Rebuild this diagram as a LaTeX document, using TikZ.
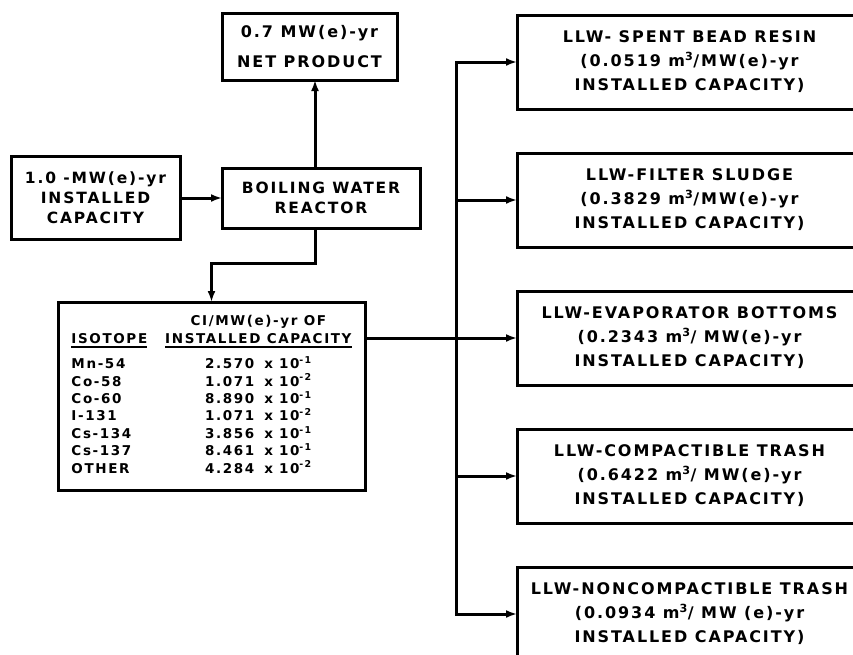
\documentclass[tikz,border=0pt]{standalone}
\usepackage{fontspec}
\newfontfamily\letterfont[LetterSpace=12]{DejaVu Sans}
\usetikzlibrary{positioning,arrows.meta}
\tikzset{>={Latex[length=11pt,width=8pt]}}
\newcommand{\thickul}[1]{\setbox0\hbox{#1}\rlap{\rule[-4.5pt]{\wd0}{2.2pt}}\box0}

\begin{document}
\begin{tikzpicture}[x=1pt, y=-1pt,
    node distance=42pt,
    box/.style={draw, line width=3pt, align=center, inner sep=2pt, outer sep=0pt},
    mainbox/.style={box, font=\letterfont\bfseries\fontsize{15.5}{20}\selectfont},
    wastebox/.style={box, minimum width=345pt, minimum height=94pt,
      font=\letterfont\bfseries\fontsize{16}{24}\selectfont},
    flow/.style={->, line width=3pt}
]
\clip (0,0) rectangle (853,654);

% reactor and its inputs/outputs
\node[mainbox, minimum width=198pt, minimum height=60pt, anchor=north west] (reactor) at (222,168) {BOILING WATER\\REACTOR};
\node[mainbox, minimum width=169pt, minimum height=83pt, left=of reactor] (capacity) {1.0 -MW(e)-yr\\INSTALLED\\CAPACITY};
\node[mainbox, minimum width=175pt, minimum height=67pt, font=\letterfont\bfseries\fontsize{16}{30}\selectfont,
      above=88pt of reactor.north west, anchor=south west] (net) {0.7 MW(e)-yr\\NET PRODUCT};

% isotope table
\node[box, minimum width=307pt, minimum height=188pt, anchor=north west,
      font=\letterfont\bfseries\fontsize{13.5}{17.4}\selectfont] (table) at (58,302) {%
  \begin{tabular}{@{}l@{\hspace{18pt}}c@{}}
    & CI/MW(e)-yr OF\\
    \thickul{ISOTOPE} & \thickul{INSTALLED CAPACITY}\\[8pt]
    Mn-54  & 2.570\hspace{10pt}x\hspace{6pt}10\textsuperscript{-1}\\
    Co-58  & 1.071\hspace{10pt}x\hspace{6pt}10\textsuperscript{-2}\\
    Co-60  & 8.890\hspace{10pt}x\hspace{6pt}10\textsuperscript{-1}\\
    I-131  & 1.071\hspace{10pt}x\hspace{6pt}10\textsuperscript{-2}\\
    Cs-134 & 3.856\hspace{10pt}x\hspace{6pt}10\textsuperscript{-1}\\
    Cs-137 & 8.461\hspace{10pt}x\hspace{6pt}10\textsuperscript{-1}\\
    OTHER  & 4.284\hspace{10pt}x\hspace{6pt}10\textsuperscript{-2}
  \end{tabular}};

% waste streams
\node[wastebox, anchor=north west] (spent) at (517,15) {LLW- SPENT BEAD RESIN\\(0.0519 m\textsuperscript{3}/MW(e)-yr\\INSTALLED CAPACITY)};
\node[wastebox, below=44pt of spent] (sludge) {LLW-FILTER SLUDGE\\(0.3829 m\textsuperscript{3}/MW(e)-yr\\INSTALLED CAPACITY)};
\node[wastebox, below=44pt of sludge] (evap) {LLW-EVAPORATOR BOTTOMS\\(0.2343 m\textsuperscript{3}/ MW(e)-yr\\INSTALLED CAPACITY)};
\node[wastebox, below=44pt of evap] (compact) {LLW-COMPACTIBLE TRASH\\(0.6422 m\textsuperscript{3}/ MW(e)-yr\\INSTALLED CAPACITY)};
\node[wastebox, below=44pt of compact] (noncompact) {LLW-NONCOMPACTIBLE TRASH\\(0.0934 m\textsuperscript{3}/ MW (e)-yr\\INSTALLED CAPACITY)};

\coordinate (bus) at (456,338);

\draw[flow] (capacity.east) -- (reactor.west);
\draw[flow] ([xshift=-6pt]reactor.north) -- ([xshift=-6pt]reactor.north |- net.south);
\draw[flow] ([xshift=-6pt]reactor.south) -- ++(0,35) -| (table.north);

\draw[flow] (table.east |- evap.west) -- (evap.west);
\draw[flow] (bus |- evap.west) |- (spent.west);
\draw[flow] (bus |- evap.west) |- (noncompact.west);
\draw[flow] (bus |- sludge.west) -- (sludge.west);
\draw[flow] (bus |- compact.west) -- (compact.west);
\end{tikzpicture}
\end{document}
